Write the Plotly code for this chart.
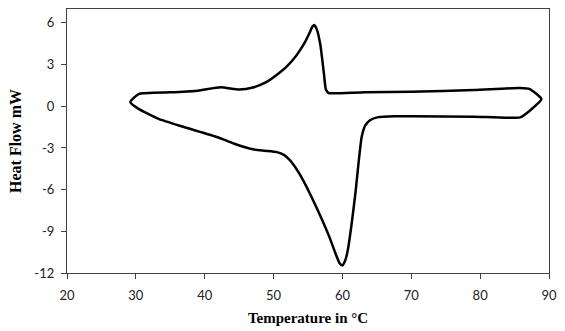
import plotly.graph_objects as go

# Heating branch (upper, left tip -> right tip)
temp_up = [29.2, 30.4, 35.0, 39.0, 42.3, 45.0, 47.0, 49.0, 50.9, 51.9, 53.0, 53.8, 54.6, 55.2, 55.6, 55.9, 56.3, 56.8, 57.3, 57.6, 58.0, 59.0, 63.3, 70.0, 79.1, 85.8, 87.2, 88.9]
heat_up = [0.3, 0.88, 1.0, 1.12, 1.36, 1.2, 1.35, 1.75, 2.43, 2.85, 3.45, 4.0, 4.65, 5.25, 5.7, 5.85, 5.5, 4.4, 2.4, 1.2, 0.95, 0.93, 1.0, 1.05, 1.17, 1.31, 1.24, 0.52]

# Cooling branch (lower, right tip -> left tip)
temp_down = [87.2, 85.8, 79.1, 70.0, 67.6, 65.2, 64.0, 63.3, 62.8, 62.4, 61.9, 61.3, 60.8, 60.4, 60.0, 59.6, 59.0, 58.1, 56.2, 54.3, 53.3, 52.4, 51.5, 50.5, 48.6, 47.0, 44.3, 41.9, 37.1, 33.3, 30.4, 29.2]
heat_down = [-0.32, -0.8, -0.75, -0.72, -0.72, -0.78, -1.0, -1.4, -2.2, -3.8, -6.2, -8.6, -10.3, -11.1, -11.45, -11.3, -10.6, -9.4, -7.25, -5.33, -4.5, -3.9, -3.5, -3.3, -3.2, -3.1, -2.70, -2.23, -1.51, -0.91, -0.19, 0.3]

x_ticks = [20, 30, 40, 50, 60, 70, 80, 90]
y_ticks = [-12, -9, -6, -3, 0, 3, 6]
y_tick_text = ["-12", "-9", "-6", "-3", "0", "3", "6"]

fig = go.Figure()
fig.add_trace(go.Scatter(
    x=temp_up + temp_down, y=heat_up + heat_down,
    mode="lines", line=dict(color="black", width=2.5, shape="spline", smoothing=0.5),
    showlegend=False,
))

axis_common = dict(showgrid=False, zeroline=False, showline=True, linecolor="#404040",
                   linewidth=1.3, mirror=True, ticks="outside", ticklen=5,
                   tickcolor="#404040", tickwidth=1.3,
                   tickfont=dict(family="Lato, Open Sans, sans-serif", size=13, color="#222"))

fig.update_xaxes(range=[20, 90], tickvals=x_ticks, ticklabelstandoff=5,
                 title=dict(text="<b>Temperature in °C</b>", standoff=10,
                            font=dict(family="Liberation Serif, serif", size=15, color="black")),
                 **axis_common)
fig.update_yaxes(range=[-12, 7], tickvals=y_ticks, ticktext=y_tick_text, ticklabelstandoff=4,
                 title=dict(text="<b>Heat Flow mW</b>", standoff=8,
                            font=dict(family="Liberation Serif, serif", size=16, color="black")),
                 **axis_common)

fig.update_layout(width=565, height=331, margin=dict(l=67, r=9, t=8, b=58),
                  plot_bgcolor="white", paper_bgcolor="white")
fig.write_html("out.html")
